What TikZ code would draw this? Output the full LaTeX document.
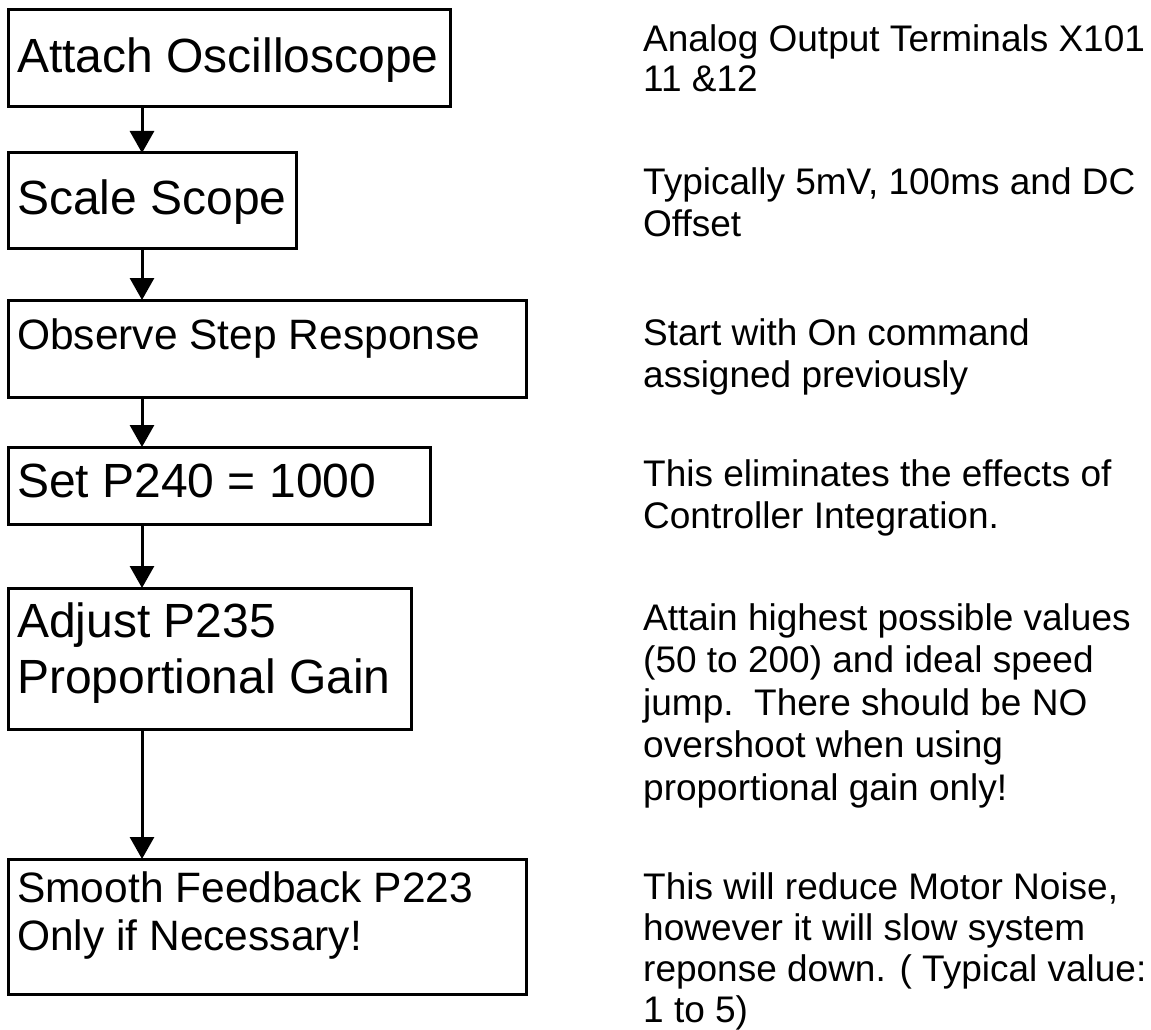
\documentclass[tikz,border=0pt]{standalone}
\usepackage{fontspec}
\setmainfont{Liberation Sans}
\usetikzlibrary{arrows.meta}

\tikzset{
  stepbox/.style={draw=black, line width=3pt, fill=none, minimum width=#1, anchor=north west,
    inner sep=0pt, outer sep=0pt},
  big/.style={anchor=base west, inner sep=0pt, font=\fontsize{48}{55}\selectfont},
  mid/.style={anchor=base west, inner sep=0pt, font=\fontsize{42.5}{49}\selectfont},
  note/.style={anchor=base west, inner sep=0pt, font=\fontsize{37}{42.5}\selectfont},
  flow/.style={line width=3pt, -{Triangle[width=24pt,length=22pt]}},
}

\begin{document}
\begin{tikzpicture}[x=1pt, y=-1pt]
  \useasboundingbox[fill=white] (0,0) rectangle (1151,1030);

  % process boxes
  \node[stepbox=442pt, minimum height=97pt]  (b1) at (8,10)  {};
  \node[stepbox=288pt, minimum height=95pt]  (b2) at (8,153) {};
  \node[stepbox=518pt, minimum height=97pt]  (b3) at (8,300) {};
  \node[stepbox=422pt, minimum height=77pt]  (b4) at (8,447) {};
  \node[stepbox=403pt, minimum height=141pt] (b5) at (8,588) {};
  \node[stepbox=518pt, minimum height=135pt] (b6) at (8,859) {};

  % box captions
  \node[big] (c1)  at (17,73)  {Attach Oscilloscope};
  \node[big] (c2)  at (17,214) {Scale Scope};
  \node[mid] (c3)  at (17,349) {Observe Step Response};
  \node[big] (c4)  at (17,497) {Set P240 = 1000};
  \node[big] (c5a) at (17,637) {Adjust P235};
  \node[big] (c5b) at (17,693) {Proportional Gain};
  \node[mid] (c6a) at (17,902) {Smooth Feedback P223};
  \node[mid] (c6b) at (17,950) {Only if Necessary!};

  % flow arrows down the left column
  \coordinate (ax) at (142,0);
  \draw[flow] (b1.south -| ax) -- (b2.north -| ax);
  \draw[flow] (b2.south -| ax) -- (b3.north -| ax);
  \draw[flow] (b3.south -| ax) -- (b4.north -| ax);
  \draw[flow] (b4.south -| ax) -- (b5.north -| ax);
  \draw[flow] (b5.south -| ax) -- (b6.north -| ax);

  % explanatory notes on the right, each block level with its box
  \foreach \t [count=\i from 0] in {{Analog Output Terminals X101}, {11 \&12}}
    \node[note] (n1-\i) at (643, 52+\i*40) {\t};
  \foreach \t [count=\i from 0] in {{Typically 5mV, 100ms and DC}, {Offset}}
    \node[note] (n2-\i) at (643, 194+\i*42.5) {\t};
  \foreach \t [count=\i from 0] in {{Start with On command}, {assigned previously}}
    \node[note] (n3-\i) at (643, 345+\i*42.5) {\t};
  \foreach \t [count=\i from 0] in {{This eliminates the effects of}, {Controller Integration.}}
    \node[note] (n4-\i) at (643, 486+\i*42.5) {\t};
  \foreach \t [count=\i from 0] in {{Attain highest possible values}, {(50 to 200) and ideal speed},
      {jump.\ \ There should be NO}, {overshoot when using}, {proportional gain only!}}
    \node[note] (n5-\i) at (643, 630+\i*42.5) {\t};
  \foreach \t [count=\i from 0] in {{This will reduce Motor Noise,}, {however it will slow system},
      {reponse down. ( Typical value:}, {1 to 5)}}
    \node[note] (n6-\i) at (643, 899+\i*41) {\t};
\end{tikzpicture}
\end{document}
